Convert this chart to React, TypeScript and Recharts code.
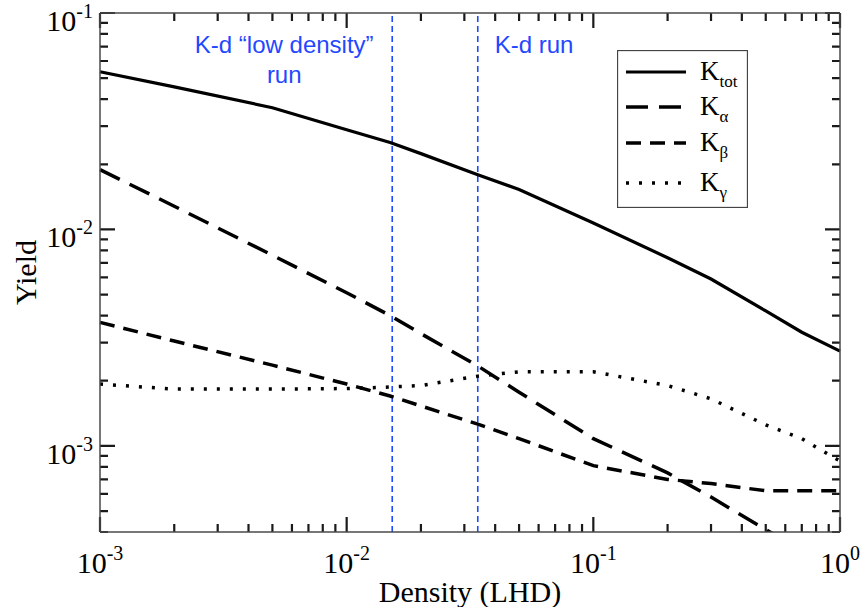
import { Legend, Line, LineChart, ReferenceLine, XAxis, YAxis } from "recharts";

const densities = [0.001, 0.002, 0.005, 0.01, 0.015, 0.02, 0.034, 0.05, 0.1, 0.2, 0.3, 0.5, 0.7, 1];
const kTot = [0.0535, 0.0456, 0.0365, 0.0289, 0.0252, 0.0224, 0.0179, 0.0153, 0.0107, 0.0074, 0.0059, 0.0042, 0.00335, 0.00274];
const kAlpha = [0.0189, 0.0128, 0.0076, 0.0051, 0.004, 0.0033, 0.00234, 0.00177, 0.00108, 0.00075, 0.00058, 0.00041, 0.00033, 0.00026];
const kBeta = [0.00372, 0.00305, 0.00236, 0.00193, 0.0017, 0.00153, 0.00126, 0.00108, 0.00081, 0.0007, 0.00067, 0.00062, 0.00062, 0.00062];
const kGamma = [0.00193, 0.00183, 0.00183, 0.00184, 0.00187, 0.0019, 0.0021, 0.0022, 0.0022, 0.0019, 0.00165, 0.00125, 0.00108, 0.00085];

const runLines = [0.0153, 0.034];

const xTicks = [
  0.001, 0.002, 0.003, 0.004, 0.005, 0.006, 0.007, 0.008, 0.009,
  0.01, 0.02, 0.03, 0.04, 0.05, 0.06, 0.07, 0.08, 0.09,
  0.1, 0.2, 0.3, 0.4, 0.5, 0.6, 0.7, 0.8, 0.9, 1,
];
const yTicks = [
  0.0004, 0.0005, 0.0006, 0.0007, 0.0008, 0.0009,
  0.001, 0.002, 0.003, 0.004, 0.005, 0.006, 0.007, 0.008, 0.009,
  0.01, 0.02, 0.03, 0.04, 0.05, 0.06, 0.07, 0.08, 0.09, 0.1,
];
const xMajor = [0.001, 0.01, 0.1, 1];
const xExponents = ["-3", "-2", "-1", "0"];
const yMajor = [0.001, 0.01, 0.1];
const yExponents = ["-3", "-2", "-1"];

const SERIES = [
  { key: "tot", sub: "tot", dash: undefined, width: 3.2 },
  { key: "alpha", sub: "α", dash: "22 11", width: 3.5 },
  { key: "beta", sub: "β", dash: "15 9", width: 3.5 },
  { key: "gamma", sub: "γ", dash: "3 10", width: 3.5 },
];

const data = densities.map((d, i) => ({
  d,
  tot: kTot[i],
  alpha: kAlpha[i],
  beta: kBeta[i],
  gamma: kGamma[i],
}));

const FRAME = "#4a4a4a";
const TICK = "#1a1a1a";
const BLUE = "#1f48ff";
const SERIF = "'Liberation Serif', 'Times New Roman', serif";
const SANS = "'Liberation Sans', Arial, sans-serif";
const MINOR = 8;
const MAJOR = 15;

const frameStyle = { stroke: FRAME, strokeWidth: 1.5 };

// inward tick marks, drawn on both opposite sides of the frame
function XTickMark({ x1, y1, y2, len }: any) {
  const top = Math.min(y1, y2);
  const bottom = Math.max(y1, y2);
  return (
    <path
      d={`M${x1},${bottom}V${bottom - len}M${x1},${top}V${top + len}`}
      stroke={TICK}
      strokeWidth={2.2}
      fill="none"
    />
  );
}

function YTickMark({ y1, x1, x2, len }: any) {
  const left = Math.min(x1, x2);
  const right = Math.max(x1, x2);
  return (
    <path
      d={`M${left},${y1}H${left + len}M${right},${y1}H${right - len}`}
      stroke={TICK}
      strokeWidth={2.2}
      fill="none"
    />
  );
}

function BottomTick({ x, y, payload }: any) {
  const idx = xMajor.indexOf(payload.value);
  if (idx < 0) return null;
  return (
    <text x={x} y={y + 41} textAnchor="middle" fontFamily={SERIF} fontSize={30} fill="#000">
      10
      <tspan dy={-13} fontSize={20}>
        {xExponents[idx]}
      </tspan>
    </text>
  );
}

function LeftTick({ x, y, payload }: any) {
  const idx = yMajor.indexOf(payload.value);
  if (idx < 0) return null;
  return (
    <text x={x - 7} y={y + 18} textAnchor="end" fontFamily={SERIF} fontSize={30} fill="#000">
      10
      <tspan dy={-13} fontSize={20}>
        {yExponents[idx]}
      </tspan>
    </text>
  );
}

function LegendBox() {
  const rows = [22, 57, 93, 133];
  return (
    <svg width={131} height={158}>
      <rect x={0.5} y={0.5} width={130} height={157} fill="#fff" stroke="#444" strokeWidth={1.3} />
      {SERIES.map((s, i) => (
        <g key={s.key}>
          <line
            x1={9}
            x2={69}
            y1={rows[i]}
            y2={rows[i]}
            stroke="#000"
            strokeWidth={s.width}
            strokeDasharray={s.dash}
          />
          <text x={83} y={rows[i] + 8} fontFamily={SERIF} fontSize={27} fill="#000">
            K
            <tspan dy={7} fontSize={17}>
              {s.sub}
            </tspan>
          </text>
        </g>
      ))}
    </svg>
  );
}

export default function App() {
  return (
    <div style={{ position: "absolute", left: 0, top: 0, background: "#fff" }}>
      <LineChart width={866} height={607} data={data} margin={{ top: 12, right: 25, bottom: 10, left: 10 }}>
        <XAxis
          xAxisId="b"
          dataKey="d"
          type="number"
          scale="log"
          domain={[0.001, 1]}
          ticks={xMajor}
          interval={0}
          tickSize={0}
          tickMargin={0}
          tickLine={false}
          tick={<BottomTick />}
          height={65}
          axisLine={frameStyle}
          label={{
            content: ({ viewBox }: any) => (
              <text
                x={viewBox.x + viewBox.width / 2}
                y={viewBox.y + 70}
                textAnchor="middle"
                fontFamily={SERIF}
                fontSize={30}
                fill="#000"
              >
                Density (LHD)
              </text>
            ),
          }}
        />
        <XAxis
          xAxisId="t"
          orientation="top"
          dataKey="d"
          type="number"
          scale="log"
          domain={[0.001, 1]}
          ticks={xMajor}
          tick={false}
          tickLine={false}
          height={1}
          axisLine={frameStyle}
        />
        <YAxis
          yAxisId="l"
          type="number"
          scale="log"
          domain={[0.0004, 0.1]}
          allowDataOverflow
          ticks={yMajor}
          interval={0}
          tickSize={0}
          tickMargin={0}
          tickLine={false}
          tick={<LeftTick />}
          width={90}
          axisLine={frameStyle}
          label={{
            content: ({ viewBox }: any) => {
              const cx = viewBox.x + 26;
              const cy = viewBox.y + viewBox.height / 2;
              return (
                <text
                  x={cx}
                  y={cy}
                  transform={`rotate(-90 ${cx} ${cy})`}
                  textAnchor="middle"
                  fontFamily={SERIF}
                  fontSize={30}
                  fill="#000"
                >
                  Yield
                </text>
              );
            },
          }}
        />
        <YAxis
          yAxisId="r"
          orientation="right"
          type="number"
          scale="log"
          domain={[0.0004, 0.1]}
          allowDataOverflow
          ticks={yMajor}
          tick={false}
          tickLine={false}
          width={1}
          axisLine={frameStyle}
        />
        {xTicks.map((v) => (
          <ReferenceLine
            key={`xt${v}`}
            xAxisId="b"
            yAxisId="l"
            x={v}
            stroke={TICK}
            shape={(p: any) => <XTickMark {...p} len={xMajor.includes(v) ? MAJOR : MINOR} />}
          />
        ))}
        {yTicks.map((v) => (
          <ReferenceLine
            key={`yt${v}`}
            xAxisId="b"
            yAxisId="l"
            y={v}
            stroke={TICK}
            shape={(p: any) => <YTickMark {...p} len={yMajor.includes(v) ? MAJOR : MINOR} />}
          />
        ))}
        <ReferenceLine
          xAxisId="b"
          yAxisId="l"
          x={runLines[0]}
          stroke={BLUE}
          strokeWidth={1.6}
          strokeDasharray="6 4"
          label={{
            content: ({ viewBox }: any) => (
              <g fontFamily={SANS} fontSize={24} fill={BLUE} textAnchor="middle">
                <text x={viewBox.x - 108} y={viewBox.y + 40}>
                  K-d “low density”
                </text>
                <text x={viewBox.x - 108} y={viewBox.y + 70}>
                  run
                </text>
              </g>
            ),
          }}
        />
        <ReferenceLine
          xAxisId="b"
          yAxisId="l"
          x={runLines[1]}
          stroke={BLUE}
          strokeWidth={1.6}
          strokeDasharray="6 4"
          label={{
            content: ({ viewBox }: any) => (
              <text x={viewBox.x + 17} y={viewBox.y + 40} fontFamily={SANS} fontSize={24} fill={BLUE}>
                K-d run
              </text>
            ),
          }}
        />
        {SERIES.map((s) => (
          <Line
            key={s.key}
            xAxisId="b"
            yAxisId="l"
            type="linear"
            dataKey={s.key}
            stroke="#000"
            strokeWidth={s.width}
            strokeDasharray={s.dash}
            dot={false}
            activeDot={false}
            isAnimationActive={false}
          />
        ))}
        <Legend
          layout="vertical"
          align="center"
          verticalAlign="middle"
          content={() => <LegendBox />}
          wrapperStyle={{ position: "absolute", left: 617, top: 50, width: 131, height: 158 }}
        />
      </LineChart>
    </div>
  );
}
